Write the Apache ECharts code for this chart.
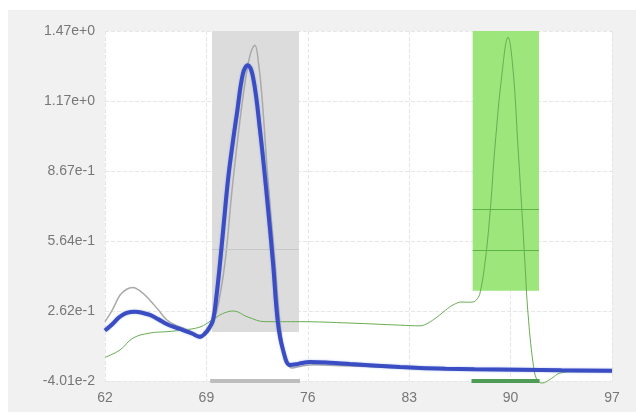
<!DOCTYPE html>
<html>
<head>
<meta charset="utf-8">
<script src="https://cdn.jsdelivr.net/npm/echarts@6/dist/echarts.min.js"></script>
<style>
html,body{margin:0;padding:0;background:#fff;width:636px;height:418px;overflow:hidden;}
#panel{position:absolute;left:8px;top:10px;right:0;bottom:6px;background:#f1f1f1;}
#chart{position:absolute;left:0;top:0;width:636px;height:418px;}
</style>
</head>
<body>
<div id="panel"></div>
<div id="chart"></div>
<script>
// ---- data ----
var xTicks = [62, 69, 76, 83, 90, 97];
var yTicks = [-0.0401, 0.2621, 0.5643, 0.8666, 1.1688, 1.4710];

var blueX = [62, 62.5, 63, 63.5, 64.07, 64.6, 65.1, 65.7, 66.26, 66.8, 67.38, 68.0, 68.56, 68.9, 69.2, 69.46, 69.7, 69.94, 70.2, 70.49, 70.8, 71.11, 71.53, 71.85, 72.22, 72.7, 73.18, 73.6, 73.94, 74.29, 74.77, 75.2, 75.6, 76.15, 77.5, 78.91, 80.5, 82.36, 83.74, 85.5, 87.5, 90.65, 93.5, 97];
var blueY = [0.178, 0.205, 0.236, 0.254, 0.259, 0.254, 0.245, 0.226, 0.206, 0.192, 0.180, 0.165, 0.150, 0.165, 0.19, 0.223, 0.33, 0.469, 0.64, 0.827, 0.98, 1.116, 1.289, 1.323, 1.272, 1.043, 0.754, 0.469, 0.210, 0.094, 0.029, 0.032, 0.038, 0.042, 0.039, 0.033, 0.027, 0.020, 0.016, 0.013, 0.011, 0.0087, 0.006, 0.0043];

var grayX = [62, 62.5, 63.04, 63.5, 63.9, 64.5, 65.1, 65.7, 66.28, 66.8, 67.38, 68.0, 68.56, 68.9, 69.25, 69.73, 70.28, 70.77, 71.32, 71.8, 72.1, 72.35, 72.6, 72.84, 73.25, 73.74, 74.08, 74.43, 74.91, 75.6, 76.5, 78, 80, 83, 86, 90, 94, 97];
var grayY = [0.216, 0.266, 0.331, 0.356, 0.364, 0.345, 0.309, 0.265, 0.223, 0.203, 0.189, 0.172, 0.158, 0.162, 0.180, 0.266, 0.469, 0.784, 1.086, 1.302, 1.385, 1.410, 1.33, 1.185, 0.827, 0.469, 0.210, 0.072, 0.016, 0.025, 0.03, 0.027, 0.022, 0.015, 0.011, 0.008, 0.005, 0.003];

var greenX = [62, 63.04, 63.93, 65.1, 66.28, 67.38, 68.56, 69.39, 70.1, 70.84, 71.87, 73.05, 75.46, 78.91, 82.36, 83.74, 84.3, 84.92, 85.5, 86.02, 86.64, 87.1, 87.4, 87.7, 87.89, 88.23, 88.58, 88.92, 89.41, 89.82, 90.17, 90.51, 90.79, 90.99, 91.2, 91.55, 91.82, 92.17, 92.8, 93.41, 94.5, 97];
var greenY = [0.062, 0.094, 0.145, 0.167, 0.173, 0.180, 0.193, 0.223, 0.250, 0.262, 0.236, 0.216, 0.216, 0.210, 0.201, 0.198, 0.210, 0.236, 0.265, 0.288, 0.301, 0.300, 0.301, 0.315, 0.340, 0.469, 0.685, 0.970, 1.289, 1.444, 1.302, 0.970, 0.685, 0.469, 0.253, 0.038, -0.036, -0.049, -0.03, -0.006, 0.0, 0.0];

// shaded regions [x0, x1, yBottom]
var grayBox = [69.39, 75.39, 0.171];
var greenBox = [87.38, 91.96, 0.35];
var grayBoxLines = [0.529];
var greenBoxLines = [0.702, 0.525];
// range bars under the axis [x0, x1]
var grayRange = [69.26, 75.46];
var greenRange = [87.3, 92.0];

function zip(a, b) { return a.map(function (v, i) { return [v, b[i]]; }); }
var yMin = yTicks[0], yMax = yTicks[yTicks.length - 1];

function boxLines(box, ys) {
  return ys.map(function (y) { return [{ coord: [box[0], y] }, { coord: [box[1], y] }]; });
}

var chart = echarts.init(document.getElementById('chart'), null, { renderer: 'canvas' });
var font = 'Arial, "Liberation Sans", sans-serif';
chart.setOption({
  animation: false,
  backgroundColor: 'transparent',
  grid: { left: 105, top: 31, right: 24, bottom: 37, show: true, backgroundColor: '#ffffff', borderWidth: 0 },
  xAxis: {
    type: 'value', min: xTicks[0], max: xTicks[xTicks.length - 1],
    axisLine: { show: false },
    axisTick: { show: false, customValues: xTicks },
    axisLabel: { customValues: xTicks, color: '#777', fontSize: 14, fontFamily: font, margin: 10 },
    splitLine: { show: true, lineStyle: { color: '#e6e6e6', type: 'dashed', width: 1 } }
  },
  yAxis: {
    type: 'value', min: yMin, max: yMax,
    axisLine: { show: false },
    axisTick: { show: false, customValues: yTicks },
    axisLabel: { customValues: yTicks, color: '#777', fontSize: 14, fontFamily: font, margin: 10,
      formatter: function (v) { return Number(v).toExponential(2); } },
    splitLine: { show: true, lineStyle: { color: '#e6e6e6', type: 'dashed', width: 1 } }
  },
  series: [
    {
      type: 'line', name: 'regions', data: [], symbol: 'none', silent: true,
      markArea: {
        silent: true,
        data: [
          [{ coord: [grayBox[0], grayBox[2]], itemStyle: { color: '#dcdcdc' } }, { coord: [grayBox[1], yMax] }],
          [{ coord: [greenBox[0], greenBox[2]], itemStyle: { color: '#9ce67b' } }, { coord: [greenBox[1], yMax] }]
        ]
      }
    },
    {
      type: 'line', name: 'boxlines', data: [], symbol: 'none', silent: true,
      markLine: {
        silent: true, symbol: 'none', label: { show: false },
        lineStyle: { color: '#c6c6c6', type: 'solid', width: 1 },
        data: boxLines(grayBox, grayBoxLines)
      }
    },
    {
      type: 'line', name: 'greenboxlines', data: [], symbol: 'none', silent: true,
      markLine: {
        silent: true, symbol: 'none', label: { show: false },
        lineStyle: { color: '#5cb544', type: 'solid', width: 1 },
        data: boxLines(greenBox, greenBoxLines)
      }
    },
    {
      type: 'line', name: 'green', data: zip(greenX, greenY), symbol: 'none', clip: false,
      smooth: 0.4,
      lineStyle: { color: '#68ad52', width: 1 }, z: 3
    },
    {
      type: 'line', name: 'gray', data: zip(grayX, grayY), symbol: 'none',
      smooth: 0.4,
      lineStyle: { color: '#aaaaaa', width: 1.5 }, z: 4
    },
    {
      type: 'line', name: 'blue', data: zip(blueX, blueY), symbol: 'none',
      smooth: 0.4,
      lineStyle: { color: '#3a4dc2', width: 4, shadowColor: 'rgba(90,120,230,0.5)', shadowBlur: 2 }, z: 5
    },
    {
      type: 'line', name: 'grayRange', data: [[grayRange[0], yMin], [grayRange[1], yMin]], symbol: 'none', clip: false,
      lineStyle: { color: '#bdbdbd', width: 4 }, z: 6
    },
    {
      type: 'line', name: 'greenRange', data: [[greenRange[0], yMin], [greenRange[1], yMin]], symbol: 'none', clip: false,
      lineStyle: { color: '#4e9c55', width: 4 }, z: 6
    }
  ]
});
</script>
</body>
</html>
